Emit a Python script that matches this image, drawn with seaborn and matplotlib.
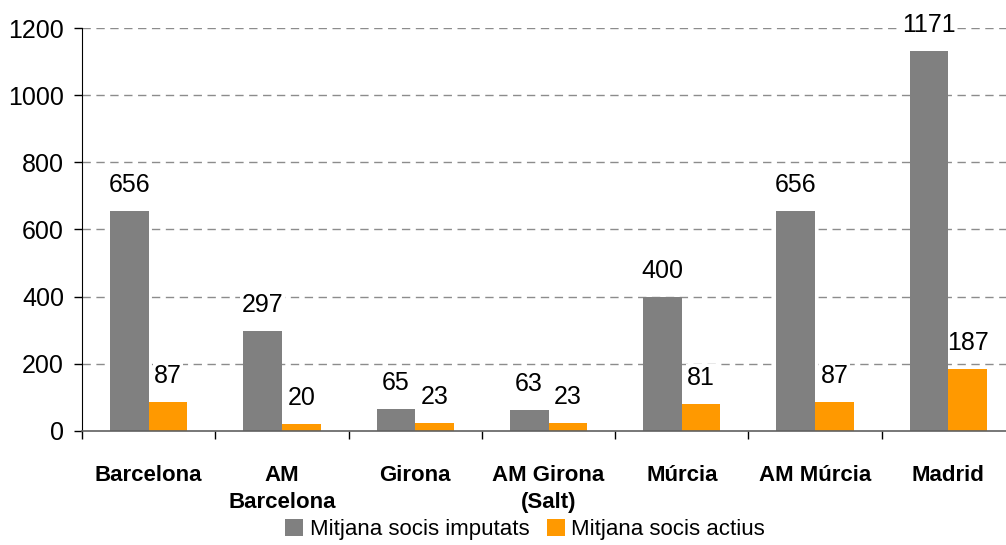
import pandas as pd
import seaborn as sns
import matplotlib.pyplot as plt
from matplotlib.ticker import FixedLocator

# data
categories = ["Barcelona", "AM\nBarcelona", "Girona", "AM Girona\n(Salt)", "Múrcia", "AM Múrcia", "Madrid"]
series = ["Mitjana socis imputats", "Mitjana socis actius"]
imputats = [656, 297, 65, 63, 400, 656, 1131]   # bar heights as drawn
actius = [87, 20, 23, 23, 81, 87, 184]
imputats_labels = ["656", "297", "65", "63", "400", "656", "1171"]
actius_labels = ["87", "20", "23", "23", "81", "87", "187"]
yticks = [0, 200, 400, 600, 800, 1000, 1200]

df = pd.DataFrame({
    "cat": categories * 2,
    "serie": [series[0]] * len(categories) + [series[1]] * len(categories),
    "val": imputats + actius,
})

sns.set_style("white")
plt.rcParams['font.family'] = ['Liberation Sans', 'DejaVu Sans']
plt.rcParams['text.color'] = 'black'
plt.rcParams['xtick.color'] = 'black'
plt.rcParams['ytick.color'] = 'black'

fig = plt.figure(figsize=(10.06, 5.45), dpi=100)
ax = fig.add_axes([82 / 1006, 114 / 545, 933 / 1006, 403 / 545])

sns.barplot(data=df, x="cat", y="val", hue="serie", order=categories, hue_order=series,
            palette=["#808080", "#FF9900"], width=0.58, saturation=1, linewidth=0, ax=ax)
for p in ax.patches:
    p.set_zorder(2)

for cont, labs in zip(ax.containers, [imputats_labels, actius_labels]):
    texts = ax.bar_label(cont, labels=labs, padding=10, fontsize=18, color="black")
    for t in texts:
        t.set_bbox(dict(facecolor="white", edgecolor="none", pad=1))
        t.set_zorder(1)

ax.set_ylim(0, 1200)
ax.set_xlim(-0.5, len(categories) - 0.5)
ax.set_yticks(yticks)
ax.set_xlabel("")
ax.set_ylabel("")

for y in yticks[1:]:
    ax.axhline(y, color="#8c8c8c", lw=1, ls=(0, (6, 4)), zorder=0)

ax.spines["top"].set_visible(False)
ax.spines["right"].set_visible(False)
ax.spines["left"].set_color("black")
ax.spines["bottom"].set_color("#606060")
ax.spines["bottom"].set_linewidth(1.2)

ax.tick_params(axis="y", left=True, length=6, width=1, color="black", pad=7, labelsize=18)
ax.tick_params(axis="x", which="major", bottom=False, pad=21, labelsize=16)
ax.xaxis.set_minor_locator(FixedLocator([i - 0.5 for i in range(len(categories) + 1)]))
ax.tick_params(axis="x", which="minor", bottom=True, length=6, width=1, color="black", direction="out")
for t in ax.get_xticklabels():
    t.set_fontweight("bold")
    t.set_linespacing(1.4)

ax.legend(loc="center", bbox_to_anchor=(0.522, 0.028), bbox_transform=fig.transFigure,
          ncol=2, frameon=False, fontsize=16, handlelength=0.8, handleheight=0.8,
          handletextpad=0.3, columnspacing=0.8, borderpad=0)

fig.savefig("out.png", dpi=100)
